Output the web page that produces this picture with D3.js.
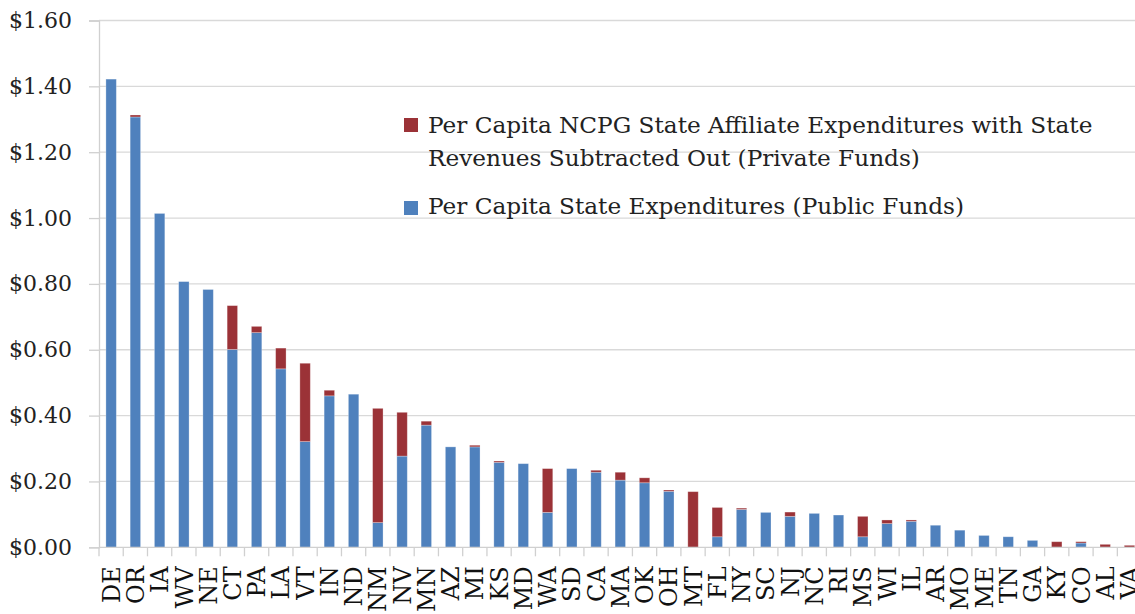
<!DOCTYPE html>
<html>
<head>
<meta charset="utf-8">
<script src="https://cdn.jsdelivr.net/npm/d3@7"></script>
<style>
  body { margin: 0; background: #fff; }
  svg { display: block; font-family: "DejaVu Serif", serif; }
</style>
</head>
<body>
<div id="area"></div>
<script>
// data
var states = ["DE","OR","IA","WV","NE","CT","PA","LA","VT","IN","ND","NM","NV","MN","AZ",
  "MI","KS","MD","WA","SD","CA","MA","OK","OH","MT","FL","NY","SC","NJ","NC","RI","MS",
  "WI","IL","AR","MO","ME","TN","GA","KY","CO","AL","VA"];
var publicFunds = [1.422,1.307,1.014,0.807,0.783,0.601,0.652,0.542,0.321,0.460,0.465,0.075,0.277,0.371,0.305,
  0.305,0.258,0.254,0.106,0.239,0.228,0.204,0.196,0.170,0.000,0.032,0.115,0.106,0.094,0.103,0.098,0.032,
  0.072,0.079,0.067,0.052,0.036,0.032,0.021,0.000,0.013,0.000,0.000];
var privateFunds = [0.000,0.006,0.000,0.000,0.000,0.133,0.019,0.063,0.238,0.017,0.000,0.347,0.133,0.012,0.000,
  0.005,0.004,0.000,0.133,0.000,0.006,0.024,0.015,0.004,0.169,0.089,0.004,0.000,0.013,0.000,0.000,0.062,
  0.011,0.004,0.000,0.000,0.000,0.000,0.000,0.017,0.004,0.009,0.006];
var yTicks = [0, 0.2, 0.4, 0.6, 0.8, 1.0, 1.2, 1.4, 1.6];
var legendLabels = [
  ["Per Capita NCPG State Affiliate Expenditures with State", "Revenues Subtracted Out (Private Funds)"],
  ["Per Capita State Expenditures (Public Funds)"]
];

var W = 1135, H = 614;
var m = { left: 99, right: 1141.6, top: 20.5, bottom: 547.3 };
var colors = { pub: "#4f81bd", priv: "#9b3237" };

var data = states.map(function(s, i) {
  return { state: s, pub: publicFunds[i], priv: privateFunds[i] };
});

var svg = d3.select("#area").append("svg")
  .attr("width", W)
  .attr("height", H);

var inner = 0.57;
var x = d3.scaleBand()
  .domain(states)
  .range([m.left, m.right])
  .paddingInner(inner)
  .paddingOuter(inner / 2);

var y = d3.scaleLinear()
  .domain([0, 1.6])
  .range([m.bottom, m.top]);

// gridlines
svg.append("g")
  .selectAll("line")
  .data(yTicks.slice(1))
  .enter().append("line")
  .attr("x1", m.left).attr("x2", W)
  .attr("y1", function(d) { return y(d); })
  .attr("y2", function(d) { return y(d); })
  .attr("stroke", "#d9d9d9")
  .attr("stroke-width", 1.3);

// y axis
var yAxis = d3.axisLeft(y)
  .tickValues(yTicks)
  .tickSize(10)
  .tickPadding(17)
  .tickFormat(function(d) { return "$" + d3.format(".2f")(d); });

var gy = svg.append("g")
  .attr("transform", "translate(" + m.left + ",0)")
  .call(yAxis);
gy.select(".domain").attr("stroke", "#d0d0d0").attr("stroke-width", 1.3);
gy.selectAll(".tick line").attr("stroke", "#d0d0d0").attr("stroke-width", 1.3);
gy.selectAll(".tick text")
  .attr("font-family", "DejaVu Serif, serif")
  .attr("font-size", 22)
  .attr("fill", "#222");

// stacked bars
var stack = d3.stack().keys(["pub", "priv"]);
var series = stack(data);

svg.append("g")
  .selectAll("g")
  .data(series)
  .enter().append("g")
  .attr("fill", function(d) { return colors[d.key]; })
  .selectAll("rect")
  .data(function(d) { return d; })
  .enter().append("rect")
  .filter(function(d) { return d[1] - d[0] > 0; })
  .attr("x", function(d) { return x(d.data.state); })
  .attr("width", x.bandwidth())
  .attr("y", function(d) { return y(d[1]); })
  .attr("height", function(d) { return y(d[0]) - y(d[1]); })
  .attr("stroke", "#fff")
  .attr("stroke-opacity", 0.35)
  .attr("stroke-width", 0.8);

// x axis
var xAxis = d3.axisBottom(x).tickSize(0).tickPadding(8);
var gx = svg.append("g")
  .attr("transform", "translate(0," + m.bottom + ")")
  .call(xAxis);
gx.select(".domain").remove();
gx.append("line")
  .attr("x1", m.left).attr("x2", W)
  .attr("stroke", "#d0d0d0").attr("stroke-width", 1.3);

// tick marks at category boundaries
gx.selectAll(".boundary")
  .data(states)
  .enter().append("line")
  .attr("class", "boundary")
  .attr("x1", function(d) { return x(d) - x.step() * inner / 2; })
  .attr("x2", function(d) { return x(d) - x.step() * inner / 2; })
  .attr("y1", 0).attr("y2", 9)
  .attr("stroke", "#d0d0d0").attr("stroke-width", 1.3);

gx.selectAll(".tick text")
  .attr("font-family", "DejaVu Serif, serif")
  .attr("font-size", 24)
  .attr("fill", "#111")
  .attr("transform", "rotate(-90)")
  .attr("text-anchor", "end")
  .attr("x", -19)
  .attr("y", 0)
  .attr("dy", "0.36em");

// legend
var legend = svg.append("g").attr("transform", "translate(404,0)");
var legendItems = [
  { color: colors.priv, lines: legendLabels[0], sq: 118, base: 133 },
  { color: colors.pub, lines: legendLabels[1], sq: 201, base: 214 }
];
legendItems.forEach(function(item) {
  legend.append("rect")
    .attr("x", 0).attr("y", item.sq)
    .attr("width", 14).attr("height", 14)
    .attr("fill", item.color);
  item.lines.forEach(function(line, i) {
    legend.append("text")
      .attr("x", 24)
      .attr("y", item.base + i * 33)
      .attr("font-size", 23.2)
      .attr("fill", "#222")
      .text(line);
  });
});
</script>
</body>
</html>
